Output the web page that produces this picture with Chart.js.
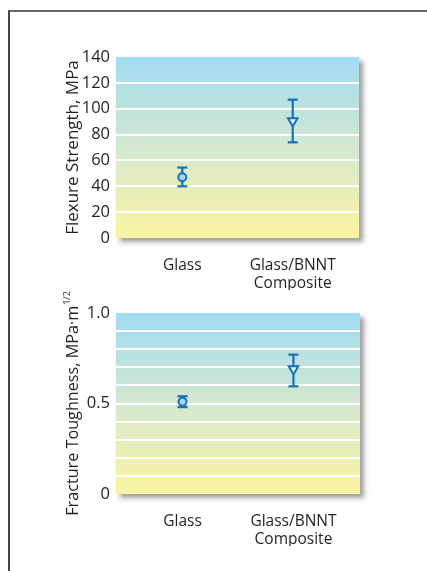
<!DOCTYPE html>
<html>
<head>
<meta charset="utf-8">
<script src="https://cdn.jsdelivr.net/npm/chart.js@4"></script>
<style>
    html, body { margin: 0; padding: 0; background: #fff; }
    body { width: 427px; height: 571px; position: relative; overflow: hidden; }
    #frame {
        position: absolute; left: 8px; top: 10px; right: -4px; bottom: -4px;
        border-top: 2px solid #666; border-left: 2px solid #444;
    }
    .box { position: absolute; left: 40px; width: 340px; }
    #box1 { top: 35px; height: 260px; }
    #box2 { top: 280px; height: 270px; }
</style>
</head>
<body>
<div id="frame"></div>
<div class="box" id="box1"><canvas id="strengthCanvas"></canvas></div>
<div class="box" id="box2"><canvas id="toughnessCanvas"></canvas></div>
<script>
// valores
const categories = ['Glass', ['Glass/BNNT', 'Composite']];
const categoryPos = [1, 2];

const strengthMean = [47, 90.5];
const strengthLow = [40, 74];
const strengthHigh = [54.5, 107];
const strengthTicks = [0, 20, 40, 60, 80, 100, 120, 140];

const toughnessMean = [0.51, 0.69];
const toughnessLow = [0.48, 0.595];
const toughnessHigh = [0.54, 0.77];
const toughnessTicks = [0, 0.5, 1.0];

const blue = '#1572b9';
const textColor = '#231f20';
const fontFamily = '"Open Sans", "Liberation Sans", sans-serif';

// fundo em degradê com sombra
const plotBackground = {
    id: 'plotBackground',
    beforeDraw(chart) {
        const { ctx, chartArea: a } = chart;
        const g = ctx.createLinearGradient(0, a.top, 0, a.bottom);
        g.addColorStop(0, '#a2dbf4');
        g.addColorStop(0.5, '#d4e8cf');
        g.addColorStop(1, '#fcf4a2');
        ctx.save();
        ctx.shadowColor = 'rgba(0,0,0,0.38)';
        ctx.shadowBlur = 5;
        ctx.shadowOffsetX = 4;
        ctx.shadowOffsetY = 4;
        ctx.fillStyle = g;
        ctx.fillRect(a.left, a.top, a.right - a.left, a.bottom - a.top);
        ctx.restore();
    }
};

// título do eixo Y (com expoente opcional)
const yTitle = {
    id: 'yTitle',
    afterDraw(chart, args, opts) {
        const { ctx, chartArea: a } = chart;
        const size = opts.size || 17;
        ctx.save();
        ctx.fillStyle = textColor;
        ctx.textBaseline = 'middle';
        ctx.font = `${size}px ${fontFamily}`;
        const w1 = ctx.measureText(opts.text).width;
        ctx.font = `9px ${fontFamily}`;
        const w2 = opts.sup ? ctx.measureText(opts.sup).width + 1 : 0;
        ctx.translate(a.left + opts.offset, (a.top + a.bottom) / 2);
        ctx.rotate(-Math.PI / 2);
        const x0 = -(w1 + w2) / 2;
        ctx.font = `${size}px ${fontFamily}`;
        ctx.textAlign = 'left';
        ctx.fillText(opts.text, x0, 0);
        if (opts.sup) {
            ctx.font = `9px ${fontFamily}`;
            ctx.fillText(opts.sup, x0 + w1 + 1, -6);
        }
        ctx.restore();
    }
};

function buildDatasets(mean, low, high, triangleRadius) {
    const sets = [{
        type: 'scatter',
        data: categoryPos.map((x, i) => ({ x, y: mean[i] })),
        pointStyle: ['circle', 'triangle'],
        rotation: [0, 180],
        pointRadius: [4, triangleRadius],
        pointBackgroundColor: ['#a9d6f2', '#e4f2f6'],
        pointBorderColor: blue,
        pointBorderWidth: 2,
        order: 0
    }];
    categoryPos.forEach((x, i) => {
        sets.push({
            type: 'line',
            data: [{ x, y: low[i] }, { x, y: high[i] }],
            borderColor: blue,
            borderWidth: 2.2,
            pointStyle: 'line',
            pointRadius: 5,
            pointBorderColor: blue,
            pointBorderWidth: 2.2,
            order: 1
        });
    });
    return sets;
}

function createChart(canvas, cfg) {
    return new Chart(canvas, {
        data: { datasets: buildDatasets(cfg.mean, cfg.low, cfg.high, 5.5) },
        options: {
            responsive: true,
            maintainAspectRatio: false,
            animation: false,
            layout: { padding: cfg.padding },
            plugins: {
                legend: { display: false },
                tooltip: { enabled: false },
                yTitle: { text: cfg.title, sup: cfg.sup, size: cfg.titleSize, offset: -43 }
            },
            scales: {
                x: {
                    type: 'linear',
                    min: 0.4,
                    max: 2.6,
                    afterBuildTicks: (scale) => { scale.ticks = categoryPos.map(v => ({ value: v })); },
                    afterFit: (scale) => { scale.height = 52; },
                    grid: { display: false },
                    border: { display: false },
                    ticks: {
                        padding: 10,
                        color: textColor,
                        font: { family: fontFamily, size: 15.5, lineHeight: 1.2 },
                        callback: (v) => categories[categoryPos.indexOf(v)]
                    }
                },
                y: {
                    min: cfg.min,
                    max: cfg.max,
                    afterFit: (scale) => { scale.width = 44; },
                    border: { display: false },
                    grid: {
                        drawTicks: false,
                        lineWidth: 2,
                        color: (c) => (c.tick && (c.tick.value === cfg.min || c.tick.value === cfg.max))
                            ? 'rgba(0,0,0,0)' : '#ffffff'
                    },
                    ticks: {
                        stepSize: cfg.step,
                        autoSkip: false,
                        padding: 6,
                        color: textColor,
                        font: { family: fontFamily, size: 16.5 },
                        callback: cfg.tickLabel
                    }
                }
            }
        },
        plugins: [plotBackground, yTitle]
    });
}

document.addEventListener('DOMContentLoaded', () => {
    createChart(document.getElementById('strengthCanvas'), {
        mean: strengthMean, low: strengthLow, high: strengthHigh,
        min: 0, max: 140, step: 20,
        title: 'Flexure Strength, MPa', titleSize: 17,
        padding: { left: 32, right: 21, top: 22, bottom: 5 },
        tickLabel: (v) => strengthTicks.includes(v) ? String(v) : ''
    });

    createChart(document.getElementById('toughnessCanvas'), {
        mean: toughnessMean, low: toughnessLow, high: toughnessHigh,
        min: 0, max: 1, step: 0.1,
        title: 'Fracture Toughness, MPa·m', sup: '1/2', titleSize: 16.2,
        padding: { left: 32, right: 20, top: 33, bottom: 4 },
        tickLabel: (v) => {
            const t = toughnessTicks.find(k => Math.abs(k - v) < 1e-9);
            if (t === undefined) return '';
            return t === 0 ? '0' : t.toFixed(1);
        }
    });
});
</script>
</body>
</html>
